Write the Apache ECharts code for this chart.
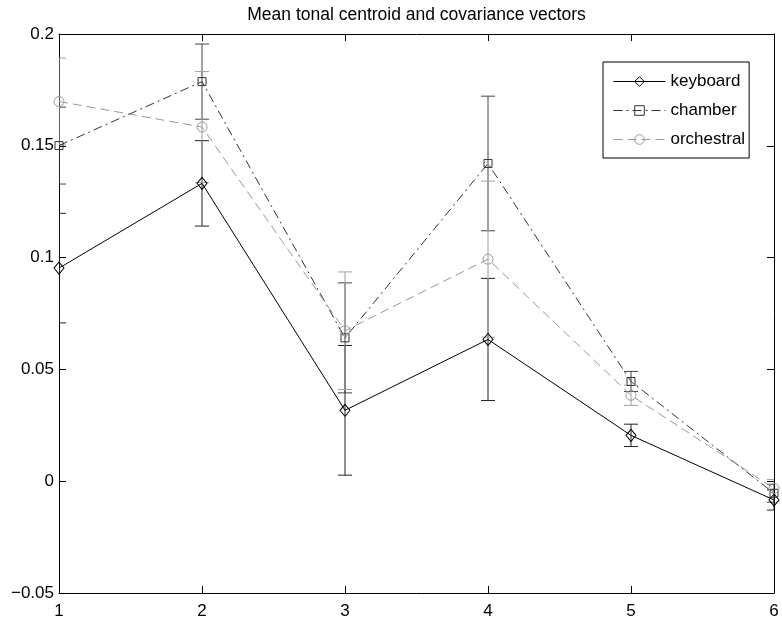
<!DOCTYPE html>
<html>
<head>
<meta charset="utf-8">
<script src="https://cdn.jsdelivr.net/npm/echarts@6/dist/echarts.min.js"></script>
<style>html,body{margin:0;padding:0;background:#fff}#chart{width:782px;height:620px}</style>
</head>
<body>
<div id="chart"></div>
<script>
// ---- data ----
const xValues = [1, 2, 3, 4, 5, 6];
const keyboard = [0.0953, 0.1332, 0.0317, 0.0634, 0.0205, -0.0084];
const keyboardErr = [0.0245, 0.0191, 0.0290, 0.0273, 0.0050, 0.0045];
const chamber = [0.1501, 0.1787, 0.0641, 0.1421, 0.0446, -0.0054];
const chamberErr = [0.0172, 0.0168, 0.0246, 0.0301, 0.0045, 0.0040];
const orchestral = [0.1698, 0.1584, 0.0673, 0.0993, 0.0384, -0.0032];
const orchestralErr = [0.0194, 0.0248, 0.0263, 0.0349, 0.0045, 0.0040];
const yTickLabels = ['\u22120.05', '0', '0.05', '0.1', '0.15', '0.2'];
const xTickLabels = ['1', '2', '3', '4', '5', '6'];
const titleText = 'Mean tonal centroid and covariance vectors';

const FONT = "'Liberation Sans', Arial, Helvetica, sans-serif";
const FS = 17;

function pts(vals) { return xValues.map((x, i) => [x, vals[i]]); }
function errPts(vals, errs) { return xValues.map((x, i) => [x, vals[i], errs[i]]); }

function errSeries(name, vals, errs, color) {
  return {
    name: name + ' err',
    type: 'custom',
    clip: true,
    z: 2,
    silent: true,
    encode: { x: 0, y: 1 },
    data: errPts(vals, errs),
    renderItem: function (params, api) {
      const x = api.value(0), y = api.value(1), e = api.value(2);
      const t = api.coord([x, y + e]);
      const b = api.coord([x, y - e]);
      const hw = 7;
      const st = { stroke: color, lineWidth: 1 };
      return {
        type: 'group',
        children: [
          { type: 'line', shape: { x1: t[0], y1: t[1], x2: b[0], y2: b[1] }, style: st },
          { type: 'line', shape: { x1: t[0] - hw, y1: t[1], x2: t[0] + hw, y2: t[1] }, style: st },
          { type: 'line', shape: { x1: b[0] - hw, y1: b[1], x2: b[0] + hw, y2: b[1] }, style: st }
        ]
      };
    }
  };
}

function axisCommon(extra) {
  return Object.assign({
    type: 'value',
    axisLine: { show: true, onZero: false, lineStyle: { color: '#000', width: 1 } },
    axisTick: { show: true, inside: true, length: 7, lineStyle: { color: '#000', width: 1 } },
    splitLine: { show: false }
  }, extra);
}

const chart = echarts.init(document.getElementById('chart'), null, { renderer: 'canvas' });
chart.setOption({
  animation: false,
  backgroundColor: '#fff',
  title: {
    text: titleText,
    left: 416.5,
    top: 6,
    padding: 0,
    textAlign: 'center',
    textStyle: { fontFamily: FONT, fontSize: 17.5, fontWeight: 'normal', color: '#000' }
  },
  grid: { left: 59, right: 8, top: 34, bottom: 25, containLabel: false },
  xAxis: [
    axisCommon({
      min: 1, max: 6, interval: 1, position: 'bottom',
      axisLabel: {
        show: true, margin: 10, color: '#000', fontFamily: FONT, fontSize: FS,
        showMinLabel: true, showMaxLabel: true,
        formatter: function (v) { return xTickLabels[Math.round(v) - 1]; }
      }
    }),
    axisCommon({ min: 1, max: 6, interval: 1, position: 'top', axisLabel: { show: false } })
  ],
  yAxis: [
    axisCommon({
      min: -0.05, max: 0.2, interval: 0.05, position: 'left',
      axisLabel: {
        show: true, margin: 5, color: '#000', fontFamily: FONT, fontSize: FS,
        showMinLabel: true, showMaxLabel: true,
        formatter: function (v, i) { return yTickLabels[Math.round((v + 0.05) / 0.05)]; }
      }
    }),
    axisCommon({ min: -0.05, max: 0.2, interval: 0.05, position: 'right', axisLabel: { show: false } })
  ],
  legend: {
    orient: 'vertical',
    left: 603,
    top: 62,
    padding: [11, 4, 10, 10],
    itemWidth: 52,
    itemHeight: 12,
    itemGap: 12,
    backgroundColor: '#fff',
    borderColor: '#000',
    borderWidth: 1,
    borderRadius: 0,
    lineStyle: { width: 1 },
    itemStyle: { borderWidth: 1 },
    data: ['keyboard', 'chamber', 'orchestral'],
    textStyle: { fontFamily: FONT, fontSize: FS, color: '#000', lineHeight: 16 }
  },
  series: [
    errSeries('keyboard', keyboard, keyboardErr, '#222'),
    errSeries('chamber', chamber, chamberErr, '#444'),
    errSeries('orchestral', orchestral, orchestralErr, '#a0a0a0'),
    {
      name: 'keyboard', type: 'line', z: 3, data: pts(keyboard),
      symbol: 'diamond', symbolSize: [10, 12], showAllSymbol: true,
      lineStyle: { color: '#000', width: 1, type: 'solid' },
      itemStyle: { color: 'rgba(255,255,255,0)', borderColor: '#000', borderWidth: 1 }
    },
    {
      name: 'chamber', type: 'line', z: 3, data: pts(chamber),
      symbol: 'rect', symbolSize: 8, showAllSymbol: true,
      lineStyle: { color: '#333', width: 1, type: [9, 4, 2, 4] },
      itemStyle: { color: 'rgba(255,255,255,0)', borderColor: '#333', borderWidth: 1 }
    },
    {
      name: 'orchestral', type: 'line', z: 3, data: pts(orchestral),
      symbol: 'circle', symbolSize: 10, showAllSymbol: true,
      lineStyle: { color: '#999', width: 1, type: [9, 5] },
      itemStyle: { color: 'rgba(255,255,255,0)', borderColor: '#999', borderWidth: 1 }
    }
  ]
});
</script>
</body>
</html>
